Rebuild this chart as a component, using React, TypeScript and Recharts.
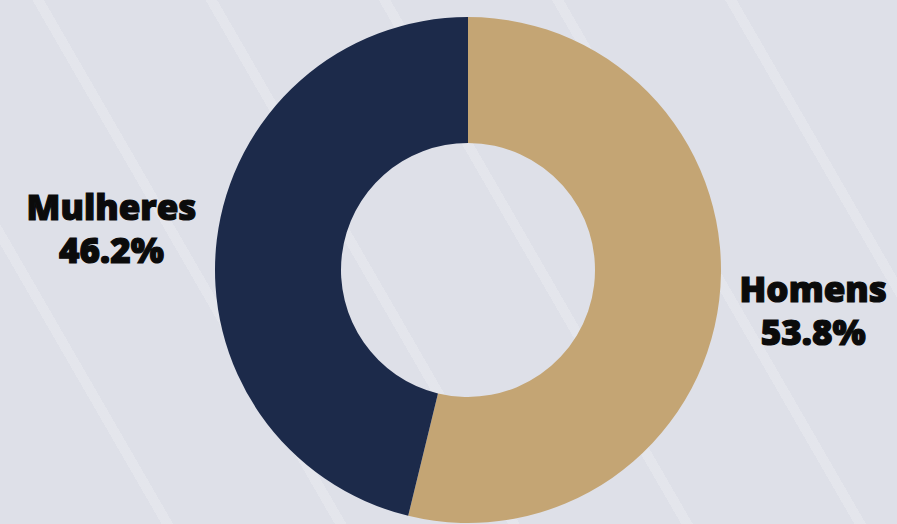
import React from 'react'
import { PieChart, Pie, Cell } from 'recharts'

const names = ['Homens', 'Mulheres']
const values = [53.8, 46.2]
const colors = ['#c4a574', '#1c2a4a']

const data = names.map((name, i) => ({ name, value: values[i] }))

const RAD = Math.PI / 180
const FONT_SIZE = 35
const FONT = `800 ${FONT_SIZE}px "Open Sans"`

function textWidth(s: string): number {
  const ctx = document.createElement('canvas').getContext('2d')
  if (!ctx) return s.length * 20
  ctx.font = FONT
  return ctx.measureText(s).width
}

// two-line label placed just outside the ring, on the side of the slice
function renderLabel(props: any) {
  const { cx, cy, midAngle, outerRadius, name, value } = props
  const cos = Math.cos(-midAngle * RAD)
  const sin = Math.sin(-midAngle * RAD)
  const pct = `${value.toFixed(1)}%`
  const w = Math.max(textWidth(name), textWidth(pct)) + 1
  const edge = cx + (outerRadius + 20) * cos
  const x = cos >= 0 ? edge + w / 2 : edge - w / 2
  const y = cy + (outerRadius + 92) * sin
  return (
    <text
      x={x}
      y={y}
      textAnchor="middle"
      fill="#0b0b0b"
      stroke="#0b0b0b"
      strokeWidth={1.2}
      style={{ fontFamily: '"Open Sans", sans-serif', fontWeight: 800, fontSize: FONT_SIZE }}
    >
      <tspan x={x} dy={-9}>{name}</tspan>
      <tspan x={x} dy={43}>{pct}</tspan>
    </text>
  )
}

export default function App() {
  return (
    <div
      style={{
        width: 897,
        height: 524,
        background:
          'repeating-linear-gradient(60deg, rgba(255,255,255,0) 0px, rgba(255,255,255,0) 140px, rgba(255,255,255,0.18) 140px, rgba(255,255,255,0.18) 150px), #dee0e8',
        overflow: 'hidden',
      }}
    >
      <style>{`body{margin:0}`}</style>
      <PieChart width={897} height={524}>
        <Pie
          data={data}
          dataKey="value"
          nameKey="name"
          cx={463}
          cy={265}
          innerRadius={127}
          outerRadius={253}
          startAngle={90}
          endAngle={-270}
          stroke="none"
          label={renderLabel}
          labelLine={false}
          isAnimationActive={false}
        >
          {data.map((d, i) => (
            <Cell key={d.name} fill={colors[i]} />
          ))}
        </Pie>
      </PieChart>
    </div>
  )
}
